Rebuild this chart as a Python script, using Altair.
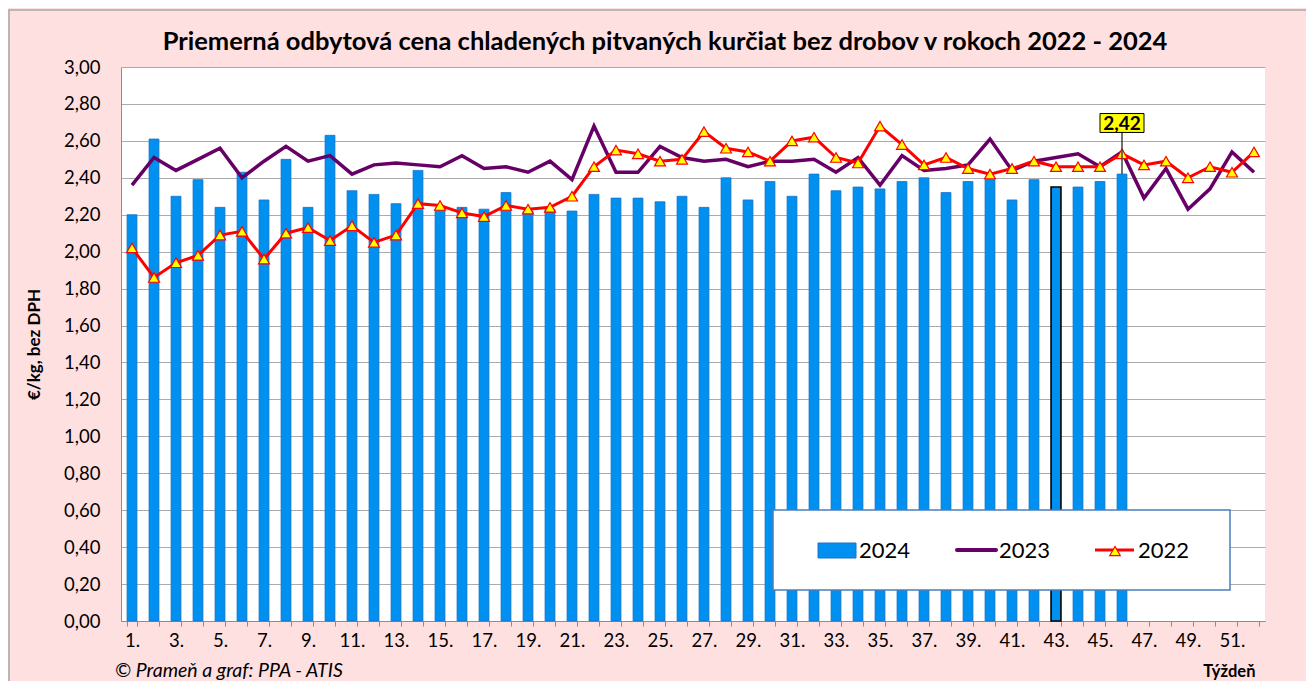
import altair as alt
import pandas as pd

# ---------------- data ----------------
weeks = list(range(1, 53))
v2024 = [2.20, 2.61, 2.30, 2.39, 2.24, 2.43, 2.28, 2.50, 2.24, 2.63,
         2.33, 2.31, 2.26, 2.44, 2.23, 2.24, 2.23, 2.32, 2.22, 2.23,
         2.22, 2.31, 2.29, 2.29, 2.27, 2.30, 2.24, 2.40, 2.28, 2.38,
         2.30, 2.42, 2.33, 2.35, 2.34, 2.38, 2.40, 2.32, 2.38, 2.39,
         2.28, 2.39, 2.35, 2.35, 2.38, 2.42]
v2023 = [2.36, 2.51, 2.44, 2.50, 2.56, 2.40, 2.49, 2.57, 2.49, 2.52,
         2.42, 2.47, 2.48, 2.47, 2.46, 2.52, 2.45, 2.46, 2.43, 2.49,
         2.39, 2.68, 2.43, 2.43, 2.57, 2.51, 2.49, 2.50, 2.46, 2.49,
         2.49, 2.50, 2.43, 2.51, 2.36, 2.52, 2.44, 2.45, 2.47, 2.61,
         2.44, 2.49, 2.51, 2.53, 2.46, 2.54, 2.29, 2.45, 2.23, 2.34,
         2.54, 2.43]
v2022 = [2.02, 1.86, 1.94, 1.98, 2.09, 2.11, 1.96, 2.10, 2.13, 2.06,
         2.14, 2.05, 2.09, 2.26, 2.25, 2.21, 2.19, 2.25, 2.23, 2.24,
         2.30, 2.46, 2.55, 2.53, 2.49, 2.50, 2.65, 2.56, 2.54, 2.49,
         2.60, 2.62, 2.51, 2.48, 2.68, 2.58, 2.47, 2.51, 2.45, 2.42,
         2.45, 2.49, 2.46, 2.46, 2.46, 2.53, 2.47, 2.49, 2.40, 2.46,
         2.43, 2.54]
y_ticks = [0.0, 0.2, 0.4, 0.6, 0.8, 1.0, 1.2, 1.4, 1.6, 1.8,
           2.0, 2.2, 2.4, 2.6, 2.8, 3.0]
series_names = ["2024", "2023", "2022"]
highlight_week = 43

title_text = "Priemerná odbytová cena chladených pitvaných kurčiat bez drobov v rokoch 2022 - 2024"
y_title = "€/kg, bez DPH"
x_title = "Týždeň"
source_text = "© Prameň a graf: PPA - ATIS"

# ---------------- style ----------------
FONT = "Lato"
BLUE = "#0091F0"
BLUE_EDGE = "#1B72C8"
PURPLE = "#660066"
RED = "#FF0000"
YELLOW = "#FFFF00"
PINK = "#FFE0E0"
GRID = "#ABABAB"
AXIS = "#8C8C8C"
W, H = 1144, 554

df24 = pd.DataFrame({"week": weeks[:len(v2024)], "value": v2024})
df23 = pd.DataFrame({"week": weeks, "value": v2023})
df22 = pd.DataFrame({"week": weeks, "value": v2022})
last_week = weeks[len(v2024) - 1]
df_ann = pd.DataFrame({"week": [last_week], "value": [v2024[-1]],
                       "label": [f"{v2024[-1]:.2f}".replace(".", ",")]})
one = pd.DataFrame({"a": [0]})

x_enc = alt.X(
    "week:O",
    scale=alt.Scale(domain=weeks, paddingInner=0.55, paddingOuter=0.275),
    axis=alt.Axis(
        title=x_title,
        labelExpr="datum.value % 2 == 1 ? datum.value + '.' : ''",
        labelAngle=0, labelOverlap=False, labelFont=FONT, labelFontSize=18.5,
        labelColor="black", labelPadding=5, tickBand="extent", ticks=True,
        tickSize=5, tickColor=AXIS, domainColor=AXIS, grid=False,
        titleFont=FONT, titleFontSize=16.5, titleFontWeight="bold",
        titleColor="black", titleX=1134, titleY=55, titleAlign="right",
        titleBaseline="alphabetic",
    ),
)
y_enc = alt.Y(
    "value:Q",
    scale=alt.Scale(domain=[0, 3], nice=False, zero=True),
    axis=alt.Axis(
        title=y_title, values=y_ticks, tickCount=16, labelOverlap=False,
        labelExpr="replace(format(datum.value, '.2f'), '.', ',')",
        labelFont=FONT, labelFontSize=18.5, labelColor="black", labelPadding=21,
        ticks=False, domainColor=AXIS, grid=True, gridColor=GRID, gridWidth=1.2,
        titleFont=FONT, titleFontSize=17, titleFontWeight="bold",
        titleColor="black", titleX=-87, titleY=277, titleAngle=-90,
        titleAlign="center", titleBaseline="middle",
    ),
)

border = alt.Chart(one).mark_rect(fillOpacity=0, stroke="#A6A6A6", strokeWidth=1.5).encode(
    x=alt.value(-112), x2=alt.value(1400), y=alt.value(-57), y2=alt.value(700))

title = alt.Chart(one).mark_text(font=FONT, fontSize=25.5, fontWeight="bold", color="black",
                                 align="center", baseline="alphabetic", text=title_text).encode(
    x=alt.value(544), y=alt.value(-17))

bars = alt.Chart(df24).mark_bar(fill=BLUE).encode(
    x=x_enc, y=y_enc,
    stroke=alt.condition(alt.datum.week == highlight_week, alt.value("black"), alt.value(BLUE_EDGE)),
    strokeWidth=alt.condition(alt.datum.week == highlight_week, alt.value(1.6), alt.value(0.8)),
)

line23 = alt.Chart(df23).mark_line(color=PURPLE, strokeWidth=3.5).encode(x=x_enc, y=y_enc)
line22 = alt.Chart(df22).mark_line(color=RED, strokeWidth=3).encode(x=x_enc, y=y_enc)
pts22 = alt.Chart(df22).mark_point(shape="triangle-up", filled=True, fill=YELLOW,
                                   stroke=RED, strokeWidth=1.2, size=120, opacity=1).encode(
    x=x_enc, y=y_enc)

ann_rule = alt.Chart(df_ann).mark_rule(color="#404040", strokeWidth=1.5).encode(
    x=x_enc, y=y_enc, y2=alt.value(65))
ann_box = alt.Chart(df_ann).mark_point(
    shape="M-1,-0.43L1,-0.43L1,0.43L-1,0.43Z", size=1936, filled=True,
    fill=YELLOW, stroke="black", strokeWidth=1, opacity=1).encode(
    x=x_enc, y=alt.value(56))
ann_text = alt.Chart(df_ann).mark_text(font=FONT, fontSize=19, fontWeight="bold",
                                       color="black", baseline="middle").encode(
    x=x_enc, y=alt.value(56.5), text="label:N")

# legend (manual, like the spreadsheet legend)
leg_box = alt.Chart(one).mark_rect(fill="white", stroke="#4A7EBB", strokeWidth=1.5).encode(
    x=alt.value(652), x2=alt.value(1109), y=alt.value(443), y2=alt.value(523))
leg_sw24 = alt.Chart(one).mark_rect(fill=BLUE, stroke=BLUE_EDGE, strokeWidth=1).encode(
    x=alt.value(697), x2=alt.value(735), y=alt.value(476), y2=alt.value(491))
leg_sw23 = alt.Chart(one).mark_rule(color=PURPLE, strokeWidth=4, strokeCap="round").encode(
    x=alt.value(836), x2=alt.value(875), y=alt.value(483))
leg_sw22 = alt.Chart(one).mark_rule(color=RED, strokeWidth=3).encode(
    x=alt.value(974), x2=alt.value(1013), y=alt.value(483))
leg_tri = alt.Chart(one).mark_point(shape="triangle-up", filled=True, fill=YELLOW,
                                    stroke=RED, strokeWidth=1.2, size=110, opacity=1).encode(
    x=alt.value(994), y=alt.value(484))
leg_texts = []
for name, xpos in zip(series_names, [738, 878, 1017]):
    leg_texts.append(alt.Chart(one).mark_text(font=FONT, fontSize=22, color="black",
                                              align="left", baseline="middle", text=name).encode(
        x=alt.value(xpos), y=alt.value(484)))

source = alt.Chart(one).mark_text(font=FONT, fontSize=19.5, fontStyle="italic", color="black",
                                  align="left", baseline="alphabetic", text=source_text).encode(
    x=alt.value(-6), y=alt.value(610))

chart = alt.layer(
    bars, line23, line22, pts22, ann_rule, ann_box, ann_text,
    leg_box, leg_sw24, leg_sw23, leg_sw22, leg_tri, *leg_texts, source, title, border,
).properties(
    width=W, height=H,
    autosize=alt.AutoSizeParams(type="none"),
    padding={"left": 113, "top": 59, "right": 41, "bottom": 60},
).configure(background=PINK).configure_view(fill="white", strokeWidth=0)

chart.save("out.html", embed_options={"renderer": "svg", "actions": False})
